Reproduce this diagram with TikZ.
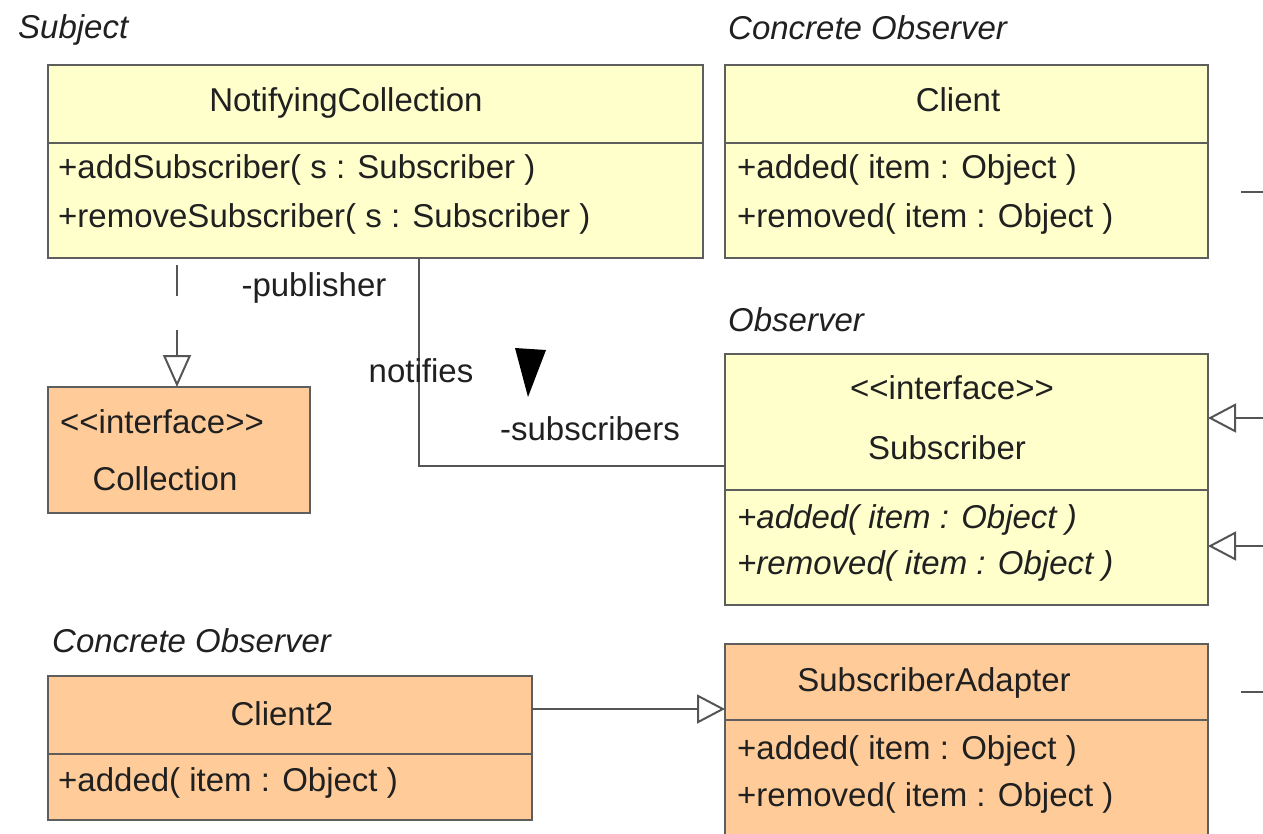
\documentclass[tikz,border=0pt]{standalone}
\usepackage{fontspec}
\setmainfont{Liberation Sans}
\usetikzlibrary{arrows.meta}
\definecolor{classyellow}{HTML}{FFFFCC}
\definecolor{classorange}{HTML}{FFCC99}
\definecolor{edgegray}{HTML}{5E5E5E}
\definecolor{linegray}{HTML}{555555}
\definecolor{textdark}{HTML}{202020}
\newcommand{\stereo}[1]{\textless{}\textless{}#1\textgreater{}\textgreater{}}

\begin{document}
\begin{tikzpicture}[x=1pt,y=-1pt,
  classbox/.style={draw=edgegray, line width=2.5pt, anchor=north west,
    inner sep=0pt, outer sep=0pt},
  yellowbox/.style={classbox, fill=classyellow},
  orangebox/.style={classbox, fill=classorange},
  divider/.style={draw=edgegray, line width=2.5pt},
  lbl/.style={font=\fontsize{33}{40}\selectfont, text=textdark, inner sep=0pt, anchor=base west},
  clbl/.style={lbl, anchor=base},
  ilbl/.style={lbl, font=\fontsize{33}{40}\selectfont\itshape},
  assoc/.style={draw=linegray, line width=2pt},
  realize/.style={draw=linegray, line width=2pt, dash pattern=on 31pt off 34pt, dash phase=58pt,
    -{Triangle[open, length=32pt, width=28pt, line width=2pt]}},
  general/.style={draw=linegray, line width=2pt,
    -{Triangle[open, length=28pt, width=29pt, line width=2pt]}},
]
\useasboundingbox (0,0) rectangle (1263,834);

% ---------- class boxes ----------
\node[yellowbox, minimum width=655pt, minimum height=193pt] (nc) at (48,65) {};
\draw[divider] (48,143) -- (703,143);

\node[yellowbox, minimum width=483pt, minimum height=193pt] (client) at (725,65) {};
\draw[divider] (725,143) -- (1208,143);

\node[orangebox, minimum width=262pt, minimum height=126pt] (coll) at (48,387) {};

\node[yellowbox, minimum width=483pt, minimum height=251pt] (sub) at (725,354) {};
\draw[divider] (725,490) -- (1208,490);

\node[orangebox, minimum width=484pt, minimum height=144pt] (c2) at (48,676) {};
\draw[divider] (48,754) -- (532,754);

\node[orangebox, minimum width=483pt, minimum height=210pt] (ad) at (725,644) {};
\draw[divider] (725,720) -- (1208,720);

% ---------- stereotype labels ----------
\node[ilbl] (lSubject) at (18,39) {Subject};
\node[ilbl] (lConcA) at (728,40) {Concrete Observer};
\node[ilbl] (lObserver) at (728,331) {Observer};
\node[ilbl] (lConcB) at (52,652) {Concrete Observer};

% ---------- NotifyingCollection ----------
\node[clbl] (ncName) at (346,112) {NotifyingCollection};
\node[lbl] (ncOpA) at (58,179) {+addSubscriber( s : Subscriber )};
\node[lbl] (ncOpB) at (58,228) {+removeSubscriber( s : Subscriber )};

% ---------- Client ----------
\node[clbl] (clName) at (958,112) {Client};
\node[lbl] (clOpA) at (737,179) {+added( item : Object )};
\node[lbl] (clOpB) at (737,228) {+removed( item : Object )};

% ---------- Collection ----------
\node[lbl] (coSt) at (60,433) {\stereo{interface}};
\node[clbl] (coName) at (165,490) {Collection};

% ---------- Subscriber ----------
\node[clbl] (suSt) at (952,399) {\stereo{interface}};
\node[clbl] (suName) at (947,459) {Subscriber};
\node[ilbl] (suOpA) at (737,528) {+added( item : Object )};
\node[ilbl] (suOpB) at (737,574) {+removed( item : Object )};

% ---------- Client2 ----------
\node[clbl] (c2Name) at (282,725) {Client2};
\node[lbl] (c2OpA) at (58,791) {+added( item : Object )};

% ---------- SubscriberAdapter ----------
\node[clbl] (adName) at (934,691) {SubscriberAdapter};
\node[lbl] (adOpA) at (737,759) {+added( item : Object )};
\node[lbl] (adOpB) at (737,806) {+removed( item : Object )};

% ---------- connectors ----------
% NotifyingCollection realizes Collection
\coordinate (realTop) at (177,258);
\draw[realize] (realTop) -- (coll.north -| realTop);

% publisher / subscribers association
\coordinate (pubEnd) at (419,258);
\coordinate (subEnd) at (725,466);
\draw[assoc] (pubEnd) |- (subEnd);
\node[clbl] (lPub) at (314,297) {-publisher};
\node[clbl] (lNotifies) at (421,382) {notifies};
\node[clbl] (lSubs) at (590,440) {-subscribers};
\fill[black] (515,348) -- (546,350) -- (528,397) -- cycle;

% Client2 extends SubscriberAdapter
\coordinate (c2Out) at (532,709);
\coordinate (adIn) at (725,709);
\draw[general] (c2Out) -- (adIn);

% generalizations entering Subscriber from the right
\coordinate (genA) at (1263,418);
\coordinate (genAEnd) at (1208,418);
\draw[general] (genA) -- (genAEnd);
\coordinate (genB) at (1263,546);
\coordinate (genBEnd) at (1208,546);
\draw[general] (genB) -- (genBEnd);

% stubs of connectors leaving to the right
\coordinate (clStub) at (1241,192);
\coordinate (clStubEnd) at (1263,192);
\draw[assoc] (clStub) -- (clStubEnd);
\coordinate (adStub) at (1241,692);
\coordinate (adStubEnd) at (1263,692);
\draw[assoc] (adStub) -- (adStubEnd);
\end{tikzpicture}
\end{document}
